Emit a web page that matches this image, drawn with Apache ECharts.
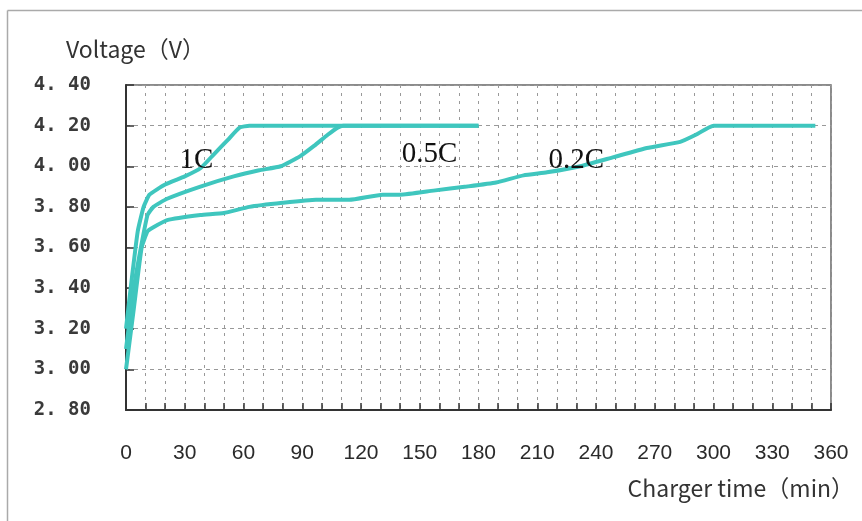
<!DOCTYPE html>
<html>
<head>
<meta charset="utf-8">
<script src="https://cdn.jsdelivr.net/npm/echarts@6/dist/echarts.min.js"></script>
<style>
html,body{margin:0;padding:0;background:#fff;}
#chart{width:862px;height:521px;}
</style>
</head>
<body>
<div id="chart"></div>
<script>
// ---- data ----
const seriesNames = ['1C', '0.5C', '0.2C'];
const data1C = [[0,3.20],[3,3.45],[6,3.68],[9,3.80],[12,3.86],[20,3.91],[30,3.95],[38,3.99],[45,4.06],[52,4.13],[58,4.19],[63,4.20],[180,4.20]];
const data05C = [[0,3.10],[4,3.40],[8,3.62],[11,3.76],[14,3.80],[21,3.84],[38,3.90],[55,3.95],[68,3.98],[79,4.00],[89,4.05],[96,4.10],[103,4.155],[108,4.19],[111,4.20],[180,4.20]];
const data02C = [[0,3.00],[4,3.30],[8,3.60],[11,3.68],[14,3.70],[21,3.735],[38,3.76],[50,3.77],[63,3.80],[80,3.82],[97,3.835],[114,3.835],[131,3.86],[140,3.86],[157,3.88],[174,3.90],[189,3.92],[203,3.955],[215,3.97],[232,4.00],[249,4.045],[266,4.09],[283,4.12],[291,4.155],[300,4.20],[352,4.20]];
const labelCoords = [[36,4.03],[155,4.06],[230,4.03]];
const xTicks = [0,30,60,90,120,150,180,210,240,270,300,330,360];
const yTickLabels = ['2. 80','3. 00','3. 20','3. 40','3. 60','3. 80','4. 00','4. 20','4. 40'];
const yAxisName = 'Voltage（V）';
const xAxisName = 'Charger time（min）';

const lineColor = '#3fc6be';
const chart = echarts.init(document.getElementById('chart'));

function mkSeries(name, data, coord) {
  return {
    name: name,
    type: 'line',
    data: data,
    showSymbol: false,
    smooth: 0.15,
    lineStyle: {color: lineColor, width: 4},
    itemStyle: {color: lineColor},
    z: 3,
    markPoint: {
      symbol: 'circle', symbolSize: 0,
      data: [{coord: coord, value: name}],
      label: {show: true, position: 'inside', formatter: name,
        fontFamily: 'Liberation Serif', fontSize: 29, color: '#111'}
    }
  };
}

chart.setOption({
  animation: false,
  backgroundColor: '#fff',
  grid: {left: 126, right: 31, top: 85, bottom: 111, show: true, borderColor: '#666', borderWidth: 1.5, backgroundColor: 'transparent'},
  xAxis: {
    type: 'value', min: 0, max: 360, interval: 30,
    axisLine: {show: true, lineStyle: {color: '#333', width: 2}},
    axisTick: {show: true, inside: true, length: 7, lineStyle: {color: '#333', width: 1.5}},
    minorTick: {show: true, splitNumber: 3, length: 7, lineStyle: {color: '#333', width: 1.5}},
    splitLine: {show: true, lineStyle: {color: '#999', type: [3, 5], width: 1}},
    minorSplitLine: {show: true, lineStyle: {color: '#999', type: [3, 5], width: 1}},
    axisLabel: {margin: 33, fontFamily: 'Liberation Sans', fontSize: 21, color: '#2a2a2a',
      formatter: function (v) { return xTicks.indexOf(v) >= 0 ? String(v) : ''; }}
  },
  yAxis: {
    type: 'value', min: 2.8, max: 4.4, interval: 0.2,
    axisLine: {show: true, lineStyle: {color: '#333', width: 2}},
    axisTick: {show: true, inside: true, length: 8, lineStyle: {color: '#333', width: 1.5}},
    splitLine: {show: true, lineStyle: {color: '#999', type: [4, 4], width: 1}},
    axisLabel: {margin: 35, fontFamily: 'DejaVu Sans Mono', fontWeight: 'bold', fontSize: 19, color: '#3a3a3a',
      padding: [8, 0, 0, 0],
      formatter: function (v) { const i = Math.round((v - 2.8) / 0.2); return yTickLabels[i] || ''; }}
  },
  graphic: [
    {type: 'line', shape: {x1: 7.5, y1: 10.5, x2: 862, y2: 10.5}, style: {stroke: '#aaa', lineWidth: 1.5}},
    {type: 'line', shape: {x1: 7.5, y1: 10.5, x2: 7.5, y2: 521}, style: {stroke: '#aaa', lineWidth: 1.5}},
    {type: 'text', left: 66, top: 38, style: {text: yAxisName, font: '23px "Noto Sans CJK SC"', fill: '#333'}},
    {type: 'text', right: 8, top: 477, style: {text: xAxisName, font: '23px "Noto Sans CJK SC"', fill: '#333'}}
  ],
  series: [
    mkSeries(seriesNames[0], data1C, labelCoords[0]),
    mkSeries(seriesNames[1], data05C, labelCoords[1]),
    mkSeries(seriesNames[2], data02C, labelCoords[2])
  ]
});
</script>
</body>
</html>
